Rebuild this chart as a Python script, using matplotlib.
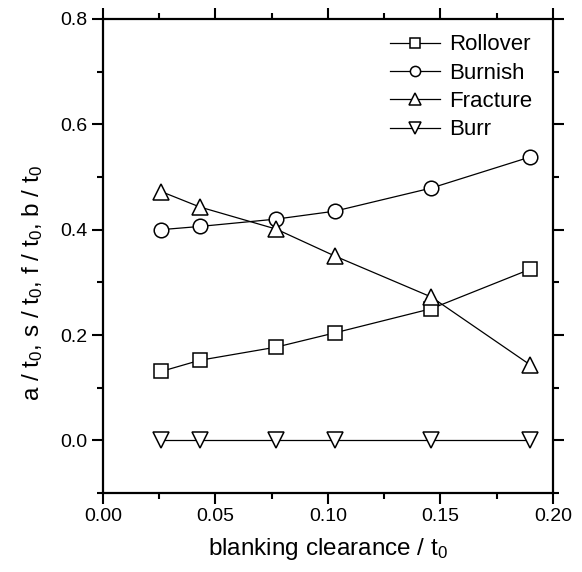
import matplotlib
matplotlib.use("Agg")
import matplotlib.pyplot as plt
from matplotlib.ticker import MultipleLocator

plt.rcParams["font.family"] = ["Liberation Sans", "DejaVu Sans"]
plt.rcParams["mathtext.fontset"] = "custom"
plt.rcParams["mathtext.rm"] = "Liberation Sans"
plt.rcParams["mathtext.it"] = "Liberation Sans"

# values
clearance = [0.026, 0.043, 0.077, 0.103, 0.146, 0.190]
rollover = [0.131, 0.152, 0.177, 0.204, 0.250, 0.325]
burnish = [0.400, 0.406, 0.420, 0.435, 0.479, 0.538]
fracture = [0.472, 0.443, 0.401, 0.350, 0.272, 0.143]
burr = [0.0, 0.0, 0.0, 0.0, 0.0, 0.0]

series = [
    ("Rollover", rollover, "s", 9.5),
    ("Burnish", burnish, "o", 10.5),
    ("Fracture", fracture, "^", 11.5),
    ("Burr", burr, "v", 11.5),
]

fig = plt.figure(figsize=(5.82, 5.72), dpi=100)
ax = fig.add_axes([0.177, 0.138, 0.773, 0.829])

for name, vals, mk, ms in series:
    ax.plot(clearance, vals, color="black", lw=0.9, marker=mk, ms=ms,
            mfc="white", mec="black", mew=1.1, label=name)

ax.set_xlim(0.0, 0.2)
ax.set_ylim(-0.1, 0.8)
ax.xaxis.set_major_locator(MultipleLocator(0.05))
ax.xaxis.set_minor_locator(MultipleLocator(0.025))
ax.yaxis.set_major_locator(MultipleLocator(0.2))
ax.yaxis.set_minor_locator(MultipleLocator(0.1))
ax.xaxis.set_major_formatter(plt.FormatStrFormatter("%.2f"))
ax.yaxis.set_major_formatter(plt.FormatStrFormatter("%.1f"))

ax.tick_params(which="both", direction="out", top=True, right=True,
               width=1.5, labelsize=14)
ax.tick_params(which="major", length=8, pad=3)
ax.tick_params(which="minor", length=4)
for sp in ax.spines.values():
    sp.set_linewidth(1.6)

ax.set_xlabel(r"blanking clearance / t$_0$", fontsize=17.5, labelpad=8)
ax.set_ylabel(r"a / t$_0$, s / t$_0$, f / t$_0$, b / t$_0$", fontsize=17.5)
ax.yaxis.set_label_coords(-0.13, 0.444)

ax.legend(loc="upper right", bbox_to_anchor=(0.989, 1.0), frameon=False,
          fontsize=16, markerscale=0.7, handlelength=2.25,
          handletextpad=0.4, labelspacing=0.33, borderaxespad=0.3)

fig.savefig("out.png", dpi=100)
